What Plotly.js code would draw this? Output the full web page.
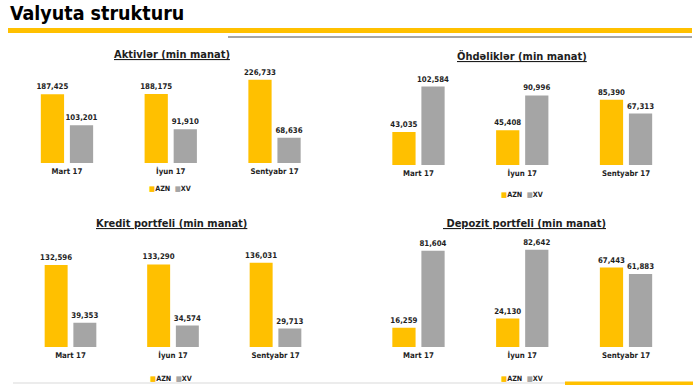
<!DOCTYPE html>
<html><head><meta charset="utf-8">
<script src="https://cdn.plot.ly/plotly-3.0.1.min.js"></script>
<style>html,body{margin:0;padding:0;background:#fff}#chart{width:700px;height:390px}</style>
</head><body><div id="chart"></div>
<script>
const categories = ['Mart 17', 'İyun 17', 'Sentyabr 17'];
const seriesNames = ['AZN', 'XV'];
const aktivlerAZN = [187425, 188175, 226733];
const aktivlerXV = [103201, 91910, 68636];
const ohdeliklerAZN = [43035, 45408, 85390];
const ohdeliklerXV = [102584, 90996, 67313];
const kreditAZN = [132596, 133290, 136031];
const kreditXV = [39353, 34574, 29713];
const depozitAZN = [16259, 24130, 67443];
const depozitXV = [81604, 82642, 61883];
const panelTitles = ['Aktivlər (min manat)', 'Öhdəliklər (min manat)', 'Kredit portfeli (min manat)', ' Depozit portfeli (min manat)'];
const mainTitle = 'Valyuta strukturu';

const W = 700, H = 390;
const YELLOW = '#FFC000', GRAY = '#A5A5A5';
const FONT = 'DejaVu Sans Condensed, DejaVu Sans, sans-serif';
const TXT = '#1e1e1e';

// panel geometry in pixels (layout only)
const panels = [
  {azn: aktivlerAZN, xv: aktivlerXV, x0: 15.1, x1: 326.4, base: 163, scale: 0.367e-3, yMax: 250000, tx: 172, ty: 55, lx: 170, ly: 188},
  {azn: ohdeliklerAZN, xv: ohdeliklerXV, x0: 366.6, x1: 677.9, base: 165, scale: 0.765e-3, yMax: 120000, tx: 522, ty: 56, lx: 522, ly: 194},
  {azn: kreditAZN, xv: kreditXV, x0: 19.25, x1: 326.75, base: 347, scale: 0.619e-3, yMax: 150000, tx: 171, ty: 223, lx: 171, ly: 378},
  {azn: depozitAZN, xv: depozitXV, x0: 366.6, x1: 677.9, base: 347, scale: 1.178e-3, yMax: 100000, tx: 524, ty: 223, lx: 522, ly: 378}
];

const traces = [];
const layout = {
  width: W, height: H,
  margin: {l: 0, r: 0, t: 0, b: 0},
  paper_bgcolor: '#fff', plot_bgcolor: '#fff',
  showlegend: false,
  barmode: 'group',
  bargap: 0.44,
  bargroupgap: 0.2,
  font: {family: FONT, color: TXT},
  annotations: [],
  shapes: []
};

panels.forEach((p, i) => {
  const n = i === 0 ? '' : String(i + 1);
  const xa = 'x' + n, ya = 'y' + n;
  [[p.azn, YELLOW, seriesNames[0]], [p.xv, GRAY, seriesNames[1]]].forEach(([vals, col, name]) => {
    traces.push({
      type: 'bar', x: categories, y: vals, name: name,
      xaxis: xa, yaxis: ya,
      marker: {color: col, line: {width: 0}},
      texttemplate: '%{y:,}', textposition: 'outside', cliponaxis: false,
      constraintext: 'none',
      textfont: {family: FONT, size: 7.8, color: TXT, weight: 'bold'},
      hoverinfo: 'skip'
    });
  });
  const top = p.base - p.yMax * p.scale;
  layout['xaxis' + n] = {
    domain: [p.x0 / W, p.x1 / W], anchor: ya, type: 'category',
    range: [-0.5, 2.5], showgrid: false, zeroline: false, showline: false,
    ticks: '', tickfont: {family: FONT, size: 7.8, color: TXT, weight: 'bold'},
    ticklabelstandoff: 2, fixedrange: true
  };
  layout['yaxis' + n] = {
    domain: [1 - p.base / H, 1 - top / H], anchor: xa,
    range: [0, p.yMax], visible: false, fixedrange: true
  };
  layout.annotations.push({
    xref: 'paper', yref: 'paper', x: p.tx / W, y: 1 - p.ty / H,
    xanchor: 'center', yanchor: 'middle', showarrow: false,
    text: '<span style="text-decoration:underline">' + panelTitles[i] + '</span>',
    font: {family: FONT, size: 11, color: TXT, weight: 'bold'}
  });
  layout.annotations.push({
    xref: 'paper', yref: 'paper', x: p.lx / W, y: 1 - p.ly / H,
    xanchor: 'center', yanchor: 'middle', showarrow: false,
    text: '<span style="color:' + YELLOW + '">■</span>' + seriesNames[0] + '  <span style="color:' + GRAY + '">■</span>' + seriesNames[1],
    font: {family: FONT, size: 7.2, color: TXT, weight: 'bold'}
  });
});

layout.annotations.push({
  xref: 'paper', yref: 'paper', x: 8 / W, y: 1 - 14 / H,
  xanchor: 'left', yanchor: 'middle', showarrow: false,
  text: mainTitle, font: {family: FONT, size: 19.5, color: '#000', weight: 'bold'}
});

// decorative header/footer rules
layout.shapes.push(
  {type: 'rect', xref: 'paper', yref: 'paper', x0: 8 / W, x1: 692 / W, y0: 1 - 33 / H, y1: 1 - 28 / H, fillcolor: YELLOW, line: {width: 0}},
  {type: 'rect', xref: 'paper', yref: 'paper', x0: 228 / W, x1: 692 / W, y0: 1 - 38 / H, y1: 1 - 36 / H, fillcolor: '#A6A6A6', line: {width: 0}},
  {type: 'line', xref: 'paper', yref: 'paper', x0: 13 / W, x1: 565 / W, y0: 1 - 383 / H, y1: 1 - 383 / H, line: {color: '#D9D9D9', width: 1}},
  {type: 'rect', xref: 'paper', yref: 'paper', x0: 565 / W, x1: 693 / W, y0: 1 - 385 / H, y1: 1 - 381.5 / H, fillcolor: YELLOW, line: {width: 0}}
);

Plotly.newPlot('chart', traces, layout, {staticPlot: true, displayModeBar: false});
</script>
</body></html>
